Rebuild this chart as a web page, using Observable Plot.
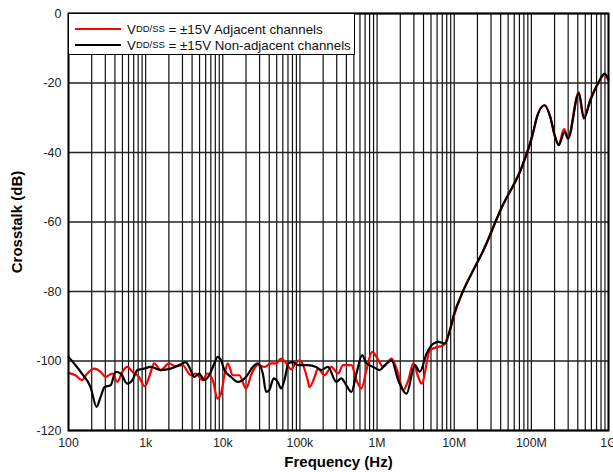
<!DOCTYPE html>
<html>
<head>
<meta charset="utf-8">
<script src="https://cdn.jsdelivr.net/npm/d3@7"></script>
<script src="https://cdn.jsdelivr.net/npm/@observablehq/plot@0.6"></script>
<style>
  body { margin: 0; background: #fff; }
  #wrap { position: relative; width: 613px; height: 472px; font-family: Arial, "Liberation Sans", sans-serif; }
  #wrap svg { font-family: Arial, "Liberation Sans", sans-serif; }
  #wrap svg [aria-label$="axis label"] text { font-weight: bold; font-size: 15px; fill: #000; }
  #legend { position: absolute; left: 68px; top: 13px; width: 285px; height: 40px; background: #fff; border: 1.5px solid #000; font-size: 13.3px; color: #111; }
  .row { position: absolute; left: 6px; height: 16px; display: flex; align-items: center; white-space: nowrap; }
  .sw { width: 46px; height: 2px; margin-right: 6px; }
  .row sub { font-size: 9.5px; vertical-align: -3px; line-height: 0; }
</style>
</head>
<body>
<div id="wrap">
  <div id="legend">
    <div class="row" style="top:7px"><span class="sw" style="background:#ff0000"></span>V<sub>DD/SS</sub>&nbsp;= ±15V Adjacent channels</div>
    <div class="row" style="top:23px"><span class="sw" style="background:#000"></span>V<sub>DD/SS</sub>&nbsp;= ±15V Non-adjacent channels</div>
  </div>
</div>
<script>
const adjFreq = [100,123,149,175,214,261,302,370,430,499,579,673,821,973,1110,1290,1570,2010,2460,3000,3860,4470,5480,6320,7400,8570,9480,10500,11600,13500,16400,20000,23700,28400,34700,42400,49000,57000,66700,77000,87000,99000,110000,126000,133000,155000,171000,209000,255000,312000,362000,465000,540000,627000,728000,863000,982000,1200000,1540000,1880000,2180000,2540000,2950000,3420000,3780000,4850000,6240000,7240000,8800000,10000000,12600000,18600000,22800000,41500000,75500000,102000000,120000000,148000000,176000000,200000000,226000000,265000000,299000000,412000000,479000000,584000000,713000000,890000000,1000000000];
const adjDb = [-103.4,-104.1,-105.5,-103.6,-102.2,-103.1,-104.6,-103.6,-106.0,-103.1,-101.7,-103.1,-104.6,-107.3,-104.6,-100.7,-102.6,-100.7,-101.5,-101.2,-104.1,-103.6,-105.5,-103.6,-105.5,-110.8,-109.4,-104.1,-100.7,-104.1,-104.1,-107.9,-103.6,-101.2,-101.7,-100.7,-100.7,-99.3,-100.7,-102.4,-100.7,-99.8,-101.2,-105.5,-107.5,-104.6,-102.2,-104.1,-101.7,-103.6,-101.2,-101.2,-105.5,-107.9,-102.6,-97.4,-98.8,-101.7,-99.3,-103.6,-108.4,-105.5,-100.7,-104.6,-106.5,-96.9,-95.9,-95.5,-91.1,-86.8,-80.6,-72.9,-69.1,-55.7,-44.1,-35.5,-29.3,-26.4,-29.8,-35.0,-37.6,-33.3,-35.6,-22.6,-30.0,-24.6,-20.6,-17.5,-19.3];

const nonAdjFreq = [100,123,149,193,231,261,294,352,408,474,579,673,782,953,1160,1570,2120,3010,3300,3670,4260,4950,5750,6670,7760,8570,9480,10500,12800,15600,20000,24500,28400,33000,36500,40000,45700,51500,57000,63000,71000,81000,94000,126000,162000,189000,231000,296000,344000,400000,465000,540000,640000,728000,889000,1080000,1260000,1540000,1880000,2410000,3090000,3590000,4390000,5370000,6240000,7600000,8800000,10000000,12600000,18600000,22800000,41500000,75500000,102000000,120000000,148000000,176000000,200000000,226000000,270000000,299000000,412000000,479000000,584000000,713000000,890000000,1000000000];
const nonAdjDb = [-98.8,-101.2,-103.6,-107.5,-113.2,-110.3,-107.5,-107.0,-103.1,-103.6,-106.5,-105.5,-102.6,-102.2,-101.7,-102.6,-102.2,-100.7,-100.3,-101.7,-104.6,-103.6,-105.5,-104.1,-100.7,-98.8,-99.8,-102.6,-104.6,-106.0,-104.6,-101.7,-100.7,-103.6,-108.9,-108.4,-105.0,-106.0,-107.9,-105.5,-100.7,-100.3,-101.2,-101.2,-101.7,-102.6,-101.7,-106.0,-105.0,-107.0,-108.9,-103.6,-98.3,-100.7,-101.7,-102.6,-101.2,-99.8,-105.5,-109.4,-101.2,-103.1,-97.8,-95.0,-94.5,-95.0,-91.1,-86.3,-80.6,-72.9,-69.1,-55.7,-44.1,-35.5,-29.3,-26.4,-29.8,-35.0,-37.9,-34.1,-36.0,-23.0,-30.2,-24.9,-20.6,-17.3,-19.0];

const xDecades = [100,1e3,1e4,1e5,1e6,1e7,1e8,1e9];
const xTickLabels = ["100","1k","10k","100k","1M","10M","100M","1G"];
const yTicks = [-120,-100,-80,-60,-40,-20,0];

const adj = adjFreq.map((f,i)=>({f, db: adjDb[i]}));
const nonAdj = nonAdjFreq.map((f,i)=>({f, db: nonAdjDb[i]}));
const xGrid = d3.scaleLog().domain([100,1e9]).ticks();

const plot = Plot.plot({
  width: 613, height: 472,
  marginLeft: 68, marginRight: 5, marginTop: 13, marginBottom: 42,
  style: {fontSize: "12px", color: "#222", background: "#fff"},
  x: {type: "log", domain: [100, 1e9]},
  y: {domain: [-120, 0]},
  marks: [
    Plot.ruleX(xGrid, {stroke: "#111", strokeWidth: 1.2}),
    Plot.ruleY(yTicks, {stroke: "#222", strokeWidth: 1.3}),
    Plot.line(adj, {x: "f", y: "db", stroke: "#ff0000", strokeWidth: 2.2, curve: "monotone-x"}),
    Plot.line(nonAdj, {x: "f", y: "db", stroke: "#000", strokeWidth: 2.2, curve: "monotone-x"}),
    Plot.axisX({ticks: xDecades, tickFormat: (d)=>xTickLabels[xDecades.indexOf(d)], tickSize: 0, tickPadding: 8, fontSize: 12.3, label: "Frequency (Hz)", labelAnchor: "center", labelArrow: "none", labelOffset: 36}),
    Plot.axisY({ticks: yTicks, tickFormat: d => String(d), tickSize: 0, tickPadding: 7, fontSize: 12.5, label: "Crosstalk (dB)", labelAnchor: "center", labelArrow: "none", labelOffset: 57}),
    Plot.frame({stroke: "#000", strokeWidth: 2})
  ]
});
document.getElementById("wrap").prepend(plot);
</script>
</body>
</html>
